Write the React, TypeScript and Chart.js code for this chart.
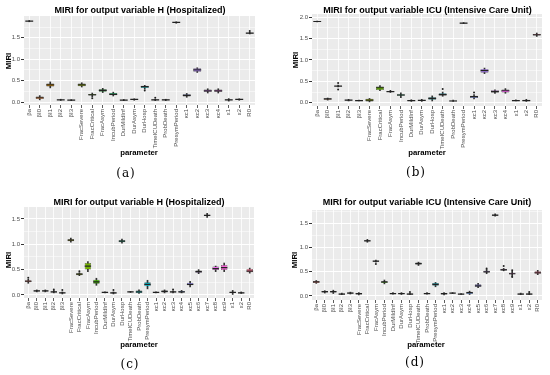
import React, { useEffect, useRef } from "react";
import { Chart, registerables } from "chart.js";
Chart.register(...registerables);

// ---------- categories ----------
const catsShort = ["βa", "βI0", "βI1", "βI2", "βI3", "FracSevere", "FracCritical", "FracAsym", "IncubPeriod", "DurMildInf", "DurAsym", "DurHosp", "TimeICUDeath", "ProbDeath", "PresymPeriod", "κc1", "κc2", "κc3", "κc4", "ε1", "ε2", "R0"];
const catsLong = ["βa", "βI0", "βI1", "βI2", "βI3", "FracSevere", "FracCritical", "FracAsym", "IncubPeriod", "DurMildInf", "DurAsym", "DurHosp", "TimeICUDeath", "ProbDeath", "PresymPeriod", "κc1", "κc2", "κc3", "κc4", "κc5", "κc6", "κc7", "κc8", "κc9", "ε1", "ε2", "R0"];

// ---------- panel (a) ----------
const aMin = [1.875, 0.05, 0.33, 0.035, 0.03, 0.35, 0.12, 0.22, 0.14, 0.03, 0.04, 0.30, 0.03, 0.03, 1.84, 0.11, 0.69, 0.21, 0.21, 0.02, 0.04, 1.59];
const aQ1 = [1.885, 0.07, 0.36, 0.045, 0.04, 0.37, 0.15, 0.24, 0.16, 0.04, 0.05, 0.33, 0.04, 0.04, 1.85, 0.13, 0.71, 0.24, 0.24, 0.04, 0.05, 1.60];
const aMed = [1.89, 0.10, 0.40, 0.05, 0.045, 0.40, 0.17, 0.27, 0.18, 0.045, 0.06, 0.36, 0.05, 0.05, 1.86, 0.155, 0.75, 0.26, 0.26, 0.05, 0.06, 1.61];
const aQ3 = [1.895, 0.13, 0.43, 0.055, 0.05, 0.43, 0.19, 0.30, 0.21, 0.055, 0.07, 0.38, 0.06, 0.06, 1.865, 0.18, 0.79, 0.29, 0.29, 0.06, 0.07, 1.62];
const aMax = [1.905, 0.15, 0.47, 0.065, 0.055, 0.45, 0.21, 0.32, 0.23, 0.06, 0.075, 0.39, 0.065, 0.065, 1.875, 0.20, 0.80, 0.31, 0.31, 0.08, 0.075, 1.63];
const aOutHi = [null, null, null, null, null, null, null, null, null, null, null, null, 0.10, null, null, null, null, null, null, null, null, 1.66];
const aOutLo = [null, null, null, null, null, null, 0.09, null, null, null, null, 0.27, null, null, null, null, null, null, null, null, null, null];

// ---------- panel (b) ----------
const bMin = [1.89, 0.06, 0.37, 0.04, 0.04, 0.02, 0.28, 0.24, 0.12, 0.03, 0.03, 0.04, 0.15, 0.03, 1.85, 0.09, 0.68, 0.22, 0.22, 0.04, 0.03, 1.55];
const bQ1 = [1.895, 0.07, 0.385, 0.05, 0.045, 0.03, 0.30, 0.25, 0.16, 0.04, 0.045, 0.07, 0.17, 0.035, 1.855, 0.11, 0.70, 0.24, 0.24, 0.045, 0.04, 1.575];
const bMed = [1.90, 0.09, 0.39, 0.06, 0.05, 0.06, 0.35, 0.26, 0.18, 0.05, 0.055, 0.10, 0.19, 0.04, 1.86, 0.14, 0.75, 0.26, 0.28, 0.05, 0.05, 1.59];
const bQ3 = [1.905, 0.10, 0.395, 0.07, 0.055, 0.09, 0.38, 0.27, 0.20, 0.065, 0.065, 0.13, 0.22, 0.05, 1.865, 0.16, 0.79, 0.29, 0.31, 0.06, 0.07, 1.61];
const bMax = [1.91, 0.11, 0.41, 0.08, 0.06, 0.10, 0.40, 0.29, 0.23, 0.07, 0.08, 0.16, 0.25, 0.06, 1.875, 0.19, 0.81, 0.30, 0.33, 0.07, 0.08, 1.63];
const bOutHi = [null, null, 0.46, null, null, null, null, null, null, null, null, null, 0.32, null, null, 0.24, null, null, null, null, null, null];
const bOutLo = [null, null, 0.31, null, null, null, null, null, null, null, null, null, null, null, null, null, null, null, null, null, null, null];

// ---------- panel (c) ----------
const cMin = [0.23, 0.06, 0.06, 0.04, 0.02, 1.04, 0.38, 0.46, 0.19, 0.04, 0.02, 1.02, 0.05, 0.03, 0.12, 0.04, 0.04, 0.04, 0.04, 0.16, 0.42, 1.53, 0.46, 0.46, 0.01, 0.03, 0.43];
const cQ1 = [0.25, 0.07, 0.07, 0.05, 0.035, 1.06, 0.39, 0.50, 0.22, 0.045, 0.03, 1.04, 0.055, 0.04, 0.17, 0.045, 0.05, 0.05, 0.05, 0.19, 0.44, 1.56, 0.49, 0.49, 0.04, 0.035, 0.45];
const cMed = [0.27, 0.08, 0.08, 0.06, 0.04, 1.08, 0.41, 0.57, 0.26, 0.05, 0.04, 1.06, 0.06, 0.06, 0.21, 0.05, 0.07, 0.06, 0.06, 0.21, 0.46, 1.57, 0.52, 0.54, 0.05, 0.04, 0.47];
const cQ3 = [0.29, 0.09, 0.09, 0.07, 0.05, 1.10, 0.43, 0.63, 0.30, 0.055, 0.05, 1.08, 0.065, 0.09, 0.25, 0.055, 0.09, 0.07, 0.08, 0.24, 0.48, 1.58, 0.56, 0.59, 0.06, 0.05, 0.51];
const cMax = [0.31, 0.10, 0.10, 0.09, 0.06, 1.12, 0.44, 0.66, 0.33, 0.06, 0.06, 1.10, 0.07, 0.10, 0.29, 0.06, 0.10, 0.08, 0.09, 0.27, 0.50, 1.61, 0.57, 0.63, 0.09, 0.06, 0.53];
const cOutHi = [0.34, null, null, 0.11, 0.10, null, 0.47, null, null, null, 0.10, null, null, null, null, null, null, 0.11, null, null, null, null, null, null, null, null, null];
const cOutLo = [null, null, null, null, null, null, null, null, null, null, null, null, null, null, null, null, null, null, null, null, null, null, null, null, null, null, null];

// ---------- panel (d) ----------
const dMin = [0.26, 0.06, 0.05, 0.03, 0.04, 0.02, 1.11, 0.70, 0.25, 0.04, 0.03, 0.03, 0.63, 0.04, 0.19, 0.02, 0.05, 0.03, 0.03, 0.17, 0.46, 1.65, 0.52, 0.40, 0.03, 0.03, 0.44];
const dQ1 = [0.27, 0.07, 0.07, 0.035, 0.05, 0.03, 1.13, 0.71, 0.27, 0.045, 0.04, 0.035, 0.65, 0.045, 0.21, 0.03, 0.055, 0.035, 0.04, 0.19, 0.49, 1.66, 0.53, 0.45, 0.035, 0.035, 0.46];
const dMed = [0.29, 0.09, 0.09, 0.04, 0.06, 0.05, 1.14, 0.72, 0.29, 0.05, 0.05, 0.04, 0.67, 0.05, 0.24, 0.05, 0.06, 0.04, 0.07, 0.21, 0.50, 1.67, 0.54, 0.46, 0.04, 0.04, 0.48];
const dQ3 = [0.31, 0.10, 0.10, 0.05, 0.07, 0.06, 1.15, 0.73, 0.30, 0.06, 0.06, 0.05, 0.69, 0.06, 0.27, 0.06, 0.065, 0.045, 0.09, 0.24, 0.52, 1.68, 0.56, 0.48, 0.05, 0.05, 0.51];
const dMax = [0.32, 0.11, 0.12, 0.06, 0.08, 0.07, 1.17, 0.74, 0.33, 0.07, 0.07, 0.06, 0.70, 0.07, 0.28, 0.07, 0.07, 0.05, 0.10, 0.26, 0.55, 1.70, 0.57, 0.51, 0.06, 0.06, 0.53];
const dOutHi = [null, null, null, null, null, null, null, null, null, null, null, 0.08, null, null, null, null, null, null, null, null, 0.57, null, 0.62, 0.53, null, 0.08, null];
const dOutLo = [null, null, null, null, null, null, null, 0.66, null, null, null, null, null, null, null, null, null, null, null, null, null, null, null, 0.39, null, null, null];

// ---------- y tick values ----------
const ticksA = [0, 0.25, 0.5, 0.75, 1, 1.25, 1.5, 1.75];
const ticksB = [0, 0.25, 0.5, 0.75, 1, 1.25, 1.5, 1.75, 2];
const ticksC = [0, 0.25, 0.5, 0.75, 1, 1.25, 1.5];
const ticksD = [0, 0.25, 0.5, 0.75, 1, 1.25, 1.5, 1.75];

const titleH = "MIRI for output variable H (Hospitalized)";
const titleICU = "MIRI for output variable ICU (Intensive Care Unit)";

// ggplot2 default hue palette (HCL, c=100, l=65)
function huePalette(n: number): string[] {
  const out: string[] = [];
  const un = 0.19783, vn = 0.46832;
  for (let i = 0; i < n; i++) {
    const h = ((15 + (360 * i) / n) * Math.PI) / 180;
    const L = 65, C = 100;
    const u = C * Math.cos(h), v = C * Math.sin(h);
    const Y = Math.pow((L + 16) / 116, 3);
    const up = u / (13 * L) + un, vp = v / (13 * L) + vn;
    const X = (Y * 9 * up) / (4 * vp);
    const Z = (Y * (12 - 3 * up - 20 * vp)) / (4 * vp);
    const lin = [
      3.2406 * X - 1.5372 * Y - 0.4986 * Z,
      -0.9689 * X + 1.8758 * Y + 0.0415 * Z,
      0.0557 * X - 0.204 * Y + 1.057 * Z,
    ];
    const rgb = lin.map((c) => {
      const g = c <= 0.0031308 ? 12.92 * c : 1.055 * Math.pow(c, 1 / 2.4) - 0.055;
      return Math.max(0, Math.min(255, Math.round(g * 255)));
    });
    out.push(`rgb(${rgb[0]},${rgb[1]},${rgb[2]})`);
  }
  return out;
}

const panelBg = {
  id: "panelBg",
  beforeDraw(chart: any) {
    const { ctx, chartArea: a } = chart;
    ctx.save();
    ctx.fillStyle = "#EBEBEB";
    ctx.fillRect(a.left, a.top, a.width, a.height);
    ctx.restore();
  },
};

const FONT = "'Liberation Sans', Arial, sans-serif";
const isMajor = (v: number) => Math.abs(v * 2 - Math.round(v * 2)) < 1e-9;

type PanelProps = {
  cats: string[]; mins: number[]; q1: number[]; med: number[]; q3: number[]; maxs: number[];
  outHi: (number | null)[]; outLo: (number | null)[];
  yMin: number; yMax: number; yTicks: number[];
  left: number; top: number; w: number; h: number;
  yWidth: number; padRight: number; padTop: number; xHeight: number;
};

function Panel(p: PanelProps) {
  const ref = useRef<HTMLCanvasElement | null>(null);
  useEffect(() => {
    const n = p.cats.length;
    const colors = huePalette(n);
    const halfBox = (ctx: any) => {
      const ca = ctx.chart.chartArea;
      return ca ? (ca.width / n) * 0.375 : 3;
    };
    const chart = new Chart(ref.current as HTMLCanvasElement, {
      type: "bar",
      data: {
        labels: p.cats,
        datasets: [
          {
            type: "bar",
            data: p.cats.map((_, i) => [p.mins[i], p.maxs[i]]),
            backgroundColor: "#333333",
            barThickness: 1,
            grouped: false,
            order: 4,
          } as any,
          {
            type: "bar",
            data: p.cats.map((_, i) => [p.q1[i], p.q3[i]]),
            backgroundColor: colors,
            borderColor: "#3a3a3a",
            borderWidth: 0.5,
            borderSkipped: false,
            barPercentage: 0.75,
            categoryPercentage: 1,
            grouped: false,
            order: 3,
          } as any,
          {
            type: "line",
            data: p.med,
            showLine: false,
            pointStyle: "line",
            pointRadius: halfBox,
            pointBorderColor: "#222222",
            pointBorderWidth: 1.2,
            order: 2,
          } as any,
          {
            type: "line",
            data: p.outHi,
            showLine: false,
            pointStyle: "circle",
            pointRadius: 1,
            pointBackgroundColor: "#222222",
            pointBorderWidth: 0,
            order: 1,
          } as any,
          {
            type: "line",
            data: p.outLo,
            showLine: false,
            pointStyle: "circle",
            pointRadius: 1,
            pointBackgroundColor: "#222222",
            pointBorderWidth: 0,
            order: 1,
          } as any,
        ],
      },
      options: {
        responsive: false,
        animation: false,
        devicePixelRatio: 1,
        layout: { padding: { left: 0, right: p.padRight, top: p.padTop, bottom: 0 } },
        plugins: { legend: { display: false }, tooltip: { enabled: false }, title: { display: false } },
        scales: {
          x: {
            type: "category",
            offset: true,
            grid: { offset: false, color: "#FFFFFF", lineWidth: 0.8, tickLength: 3, tickColor: "#333333" },
            border: { display: false },
            ticks: {
              autoSkip: false, minRotation: 90, maxRotation: 90, padding: 1,
              color: "#4D4D4D", font: { size: 6, family: FONT },
            },
            afterFit: (s: any) => { s.height = p.xHeight; },
          },
          y: {
            type: "linear",
            min: p.yMin,
            max: p.yMax,
            afterBuildTicks: (s: any) => { s.ticks = p.yTicks.map((v) => ({ value: v })); },
            grid: {
              color: "#FFFFFF",
              lineWidth: (c: any) => (c.tick && isMajor(c.tick.value) ? 1 : 0.5),
              tickColor: (c: any) => (c.tick && isMajor(c.tick.value) ? "#333333" : "rgba(0,0,0,0)"),
              tickLength: 3,
            },
            border: { display: false },
            ticks: {
              padding: 1,
              color: "#4D4D4D",
              font: { size: 6, family: FONT },
              callback: (v: any) => (isMajor(Number(v)) ? Number(v).toFixed(1) : ""),
            },
            afterFit: (s: any) => { s.width = p.yWidth; },
          },
        },
      } as any,
      plugins: [panelBg],
    });
    return () => chart.destroy();
  }, []);
  return (
    <canvas
      ref={ref}
      width={p.w}
      height={p.h}
      style={{ position: "absolute", left: p.left, top: p.top, width: p.w, height: p.h }}
    />
  );
}

function Txt(props: { x: number; y: number; text: string; style: React.CSSProperties; rotate?: boolean }) {
  return (
    <div
      style={{
        position: "absolute",
        left: props.x,
        top: props.y,
        transform: `translate(-50%, -50%)${props.rotate ? " rotate(-90deg)" : ""}`,
        whiteSpace: "nowrap",
        lineHeight: 1,
        ...props.style,
      }}
    >
      {props.text}
    </div>
  );
}

const titleStyle: React.CSSProperties = { fontFamily: FONT, fontWeight: "bold", fontSize: 9, color: "#000" };
const axisStyle: React.CSSProperties = { fontFamily: FONT, fontWeight: "bold", fontSize: 7.8, color: "#000" };
const capStyle: React.CSSProperties = { fontFamily: "'DejaVu Serif', 'Liberation Serif', serif", fontSize: 12, letterSpacing: 1, color: "#000" };

export default function App() {
  return (
    <div style={{ position: "absolute", left: 0, top: 0, width: 550, height: 375, background: "#fff", overflow: "hidden" }}>
      <Panel cats={catsShort} mins={aMin} q1={aQ1} med={aMed} q3={aQ3} maxs={aMax} outHi={aOutHi} outLo={aOutLo}
        yMin={-0.07} yMax={2.01} yTicks={ticksA} left={0} top={0} w={275} h={185}
        yWidth={24} padRight={20} padTop={16} xHeight={80} />
      <Panel cats={catsShort} mins={bMin} q1={bQ1} med={bMed} q3={bQ3} maxs={bMax} outHi={bOutHi} outLo={bOutLo}
        yMin={-0.077} yMax={2.075} yTicks={ticksB} left={275} top={0} w={275} h={185}
        yWidth={37} padRight={8} padTop={14} xHeight={79} />
      <Panel cats={catsLong} mins={cMin} q1={cQ1} med={cMed} q3={cQ3} maxs={cMax} outHi={cOutHi} outLo={cOutLo}
        yMin={-0.06} yMax={1.735} yTicks={ticksC} left={0} top={185} w={275} h={190}
        yWidth={24} padRight={21} padTop={22} xHeight={77} />
      <Panel cats={catsLong} mins={dMin} q1={dQ1} med={dMed} q3={dQ3} maxs={dMax} outHi={dOutHi} outLo={dOutLo}
        yMin={-0.083} yMax={1.777} yTicks={ticksD} left={275} top={185} w={275} h={190}
        yWidth={37} padRight={8} padTop={25} xHeight={75} />

      <Txt x={140} y={10} text={titleH} style={titleStyle} />
      <Txt x={427.5} y={10} text={titleICU} style={titleStyle} />
      <Txt x={139} y={202} text={titleH} style={titleStyle} />
      <Txt x={427} y={202} text={titleICU} style={titleStyle} />

      <Txt x={8.5} y={61} text="MIRI" style={axisStyle} rotate />
      <Txt x={295.5} y={60} text="MIRI" style={axisStyle} rotate />
      <Txt x={8.5} y={260} text="MIRI" style={axisStyle} rotate />
      <Txt x={295} y={260} text="MIRI" style={axisStyle} rotate />

      <Txt x={139} y={153} text="parameter" style={axisStyle} />
      <Txt x={427} y={153} text="parameter" style={axisStyle} />
      <Txt x={139} y={345} text="parameter" style={axisStyle} />
      <Txt x={426} y={345} text="parameter" style={axisStyle} />

      <Txt x={126} y={173} text="(a)" style={capStyle} />
      <Txt x={416} y={172} text="(b)" style={capStyle} />
      <Txt x={130} y={364} text="(c)" style={capStyle} />
      <Txt x={415} y={362} text="(d)" style={capStyle} />
    </div>
  );
}
